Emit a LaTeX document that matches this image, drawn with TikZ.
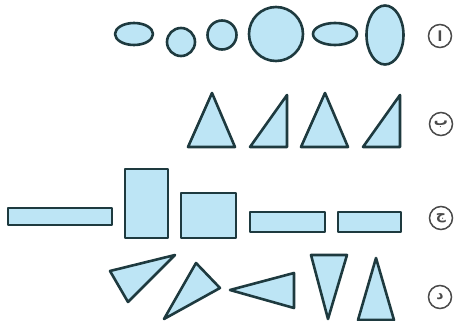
\documentclass[tikz,border=0pt]{standalone}
\usepackage{fontspec}
\newfontfamily\arabicfont[Script=Arabic]{DejaVu Sans}
\TeXXeTstate=1
\definecolor{shapefill}{HTML}{BDE5F5}
\definecolor{shapeline}{HTML}{1E3A3F}
\definecolor{labelgray}{HTML}{4A4A4A}
\begin{document}
\begin{tikzpicture}[x=1pt,y=-1pt,
  shp/.style={draw=shapeline,fill=shapefill,line width=2.6pt,line join=round},
  lbl/.style={circle,draw=labelgray,line width=1.5pt,minimum size=23pt,inner sep=0pt,
    text=labelgray,font=\arabicfont\bfseries\fontsize{14}{14}\selectfont}]
\useasboundingbox (0,0) rectangle (456,321);
% row 1: ellipses and circles
\draw[shp] (134,34) ellipse [x radius=19,y radius=11];
\draw[shp] (181,42) circle [radius=14];
\draw[shp] (222,35) circle [radius=14.5];
\draw[shp] (276,34) circle [radius=27];
\draw[shp] (335,34) ellipse [x radius=22,y radius=11];
\draw[shp] (385,35) ellipse [x radius=18.5,y radius=29.5];
\node[lbl] (la) at (440,36) {\beginR ا\endR};
% row 2: triangles
\draw[shp] (212,93) -- (235,147) -- (188,147) -- cycle;
\draw[shp] (287,95) -- (287,147) -- (250,147) -- cycle;
\draw[shp] (325,93) -- (348,147) -- (301,147) -- cycle;
\draw[shp] (400,95) -- (400,147) -- (363,147) -- cycle;
\node[lbl] (lb) at (441,124) {\beginR ب\endR};
% row 3: rectangles
\draw[shp] (8,208) rectangle (112,225);
\draw[shp] (125,169) rectangle (168,238);
\draw[shp] (181,193) rectangle (236,238);
\draw[shp] (250,212) rectangle (325,232);
\draw[shp] (338,212) rectangle (401,232);
\node[lbl] (lc) at (441,218) {\beginR ج\endR};
% row 4: triangles
\draw[shp] (110,271) -- (175,255) -- (128,302) -- cycle;
\draw[shp] (196,263) -- (220,288) -- (164,319) -- cycle;
\draw[shp] (230,290) -- (294,273) -- (294,308) -- cycle;
\draw[shp] (311,255) -- (347,255) -- (328,319) -- cycle;
\draw[shp] (376,258) -- (394,320) -- (358,320) -- cycle;
\node[lbl] (ld) at (440,297) {\beginR د\endR};
\end{tikzpicture}
\end{document}
